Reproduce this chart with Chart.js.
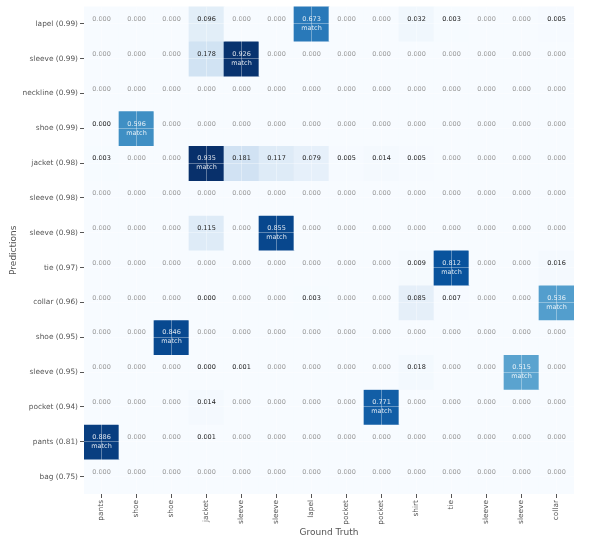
<!DOCTYPE html>
<html>
<head>
<meta charset="utf-8">
<script src="https://cdn.jsdelivr.net/npm/chart.js@4.4.1/dist/chart.umd.min.js"></script>
<style>
html,body{margin:0;padding:0;background:#fff}
#wrap{width:592px;height:548px}
</style>
</head>
<body>
<div id="wrap"><canvas id="cm"></canvas></div>
<script>
// ground truth columns (x) and predicted rows (y, top to bottom)
const truthLabels=["pants","shoe","shoe","jacket","sleeve","sleeve","lapel","pocket","pocket","shirt","tie","sleeve","sleeve","collar"]
const predLabels=["lapel (0.99)","sleeve (0.99)","neckline (0.99)","shoe (0.99)","jacket (0.98)","sleeve (0.98)","sleeve (0.98)","tie (0.97)","collar (0.96)","shoe (0.95)","sleeve (0.95)","pocket (0.94)","pants (0.81)","bag (0.75)"]

const rowLapel   =[0,0,0,0.096,0,0,0.673,0,0,0.032,0.003,0,0,0.005]
const rowSleeveA =[0,0,0,0.178,0.926,0,0,0,0,0,0,0,0,0]
const rowNeckline=[0,0,0,0,0,0,0,0,0,0,0,0,0,0]
const rowShoeA   =[0.0003,0.596,0,0,0,0,0,0,0,0,0,0,0,0]
const rowJacket  =[0.003,0,0,0.935,0.181,0.117,0.079,0.005,0.014,0.005,0,0,0,0]
const rowSleeveB =[0,0,0,0,0,0,0,0,0,0,0,0,0,0]
const rowSleeveC =[0,0,0,0.115,0,0.855,0,0,0,0,0,0,0,0]
const rowTie     =[0,0,0,0,0,0,0,0,0,0.009,0.812,0,0,0.016]
const rowCollar  =[0,0,0,0.0003,0,0,0.003,0,0,0.085,0.007,0,0,0.536]
const rowShoeB   =[0,0,0.846,0,0,0,0,0,0,0,0,0,0,0]
const rowSleeveD =[0,0,0,0.0004,0.001,0,0,0,0,0.018,0,0,0.515,0]
const rowPocket  =[0,0,0,0.014,0,0,0,0,0.771,0,0,0,0,0]
const rowPants   =[0.886,0,0,0.001,0,0,0,0,0,0,0,0,0,0]
const rowBag     =[0,0,0,0,0,0,0,0,0,0,0,0,0,0]
// column index of the matched ground truth for each row, -1 = none
const matchCol=[6,4,-1,1,3,-1,5,10,13,2,12,8,0,-1]

const matrix=[rowLapel,rowSleeveA,rowNeckline,rowShoeA,rowJacket,rowSleeveB,rowSleeveC,rowTie,rowCollar,rowShoeB,rowSleeveD,rowPocket,rowPants,rowBag]
const nRows=predLabels.length
const vmax=Math.max(...matrix.flat())

// matplotlib "Blues"
const blues=["#f7fbff","#deebf7","#c6dbef","#9ecae1","#6baed6","#4292c6","#2171b5","#08519c","#08306b"]
function hex(h){return [1,3,5].map(i=>parseInt(h.slice(i,i+2),16))}
function bluesAt(t){
t=Math.max(0,Math.min(1,t))*(blues.length-1)
const i=Math.min(Math.floor(t),blues.length-2)
const f=t-i
const a=hex(blues[i]),b=hex(blues[i+1])
const c=a.map((v,k)=>Math.round(v+(b[k]-v)*f))
return "rgb("+c.join(",")+")"
}

const FONT="'DejaVu Sans', sans-serif"

const datasets=matrix.map((row,i)=>({
label:predLabels[i],
data:row.map(()=>[nRows-1-i,nRows-i]),
backgroundColor:row.map(v=>bluesAt(v/vmax)),
borderWidth:0,
grouped:false,
barPercentage:1,
categoryPercentage:1
}))

const cellText={
id:"cellText",
afterDatasetsDraw(chart){
const {ctx,scales:{x,y}}=chart
ctx.save()
ctx.textAlign="center"
ctx.textBaseline="middle"
ctx.font="6.5px "+FONT
matrix.forEach((row,i)=>{
const cy=y.getPixelForValue(nRows-0.5-i)
row.forEach((v,j)=>{
const cx=x.getPixelForValue(j)
const isMatch=matchCol[i]===j
ctx.fillStyle=isMatch?"rgba(255,255,255,0.85)":(v>0?"#222":"#999")
ctx.fillText(v.toFixed(3),cx,cy-4.5)
if(isMatch) ctx.fillText("match",cx,cy+4.5)
})
})
ctx.restore()
}
}

new Chart(document.getElementById("cm"),{
type:"bar",
data:{labels:truthLabels,datasets:datasets},
options:{
responsive:true,
maintainAspectRatio:false,
animation:false,
layout:{padding:{top:4,right:18,left:0,bottom:0}},
plugins:{legend:{display:false},tooltip:{enabled:false}},
scales:{
x:{
type:"category",
offset:true,
afterFit(s){s.height=54},
grid:{offset:false,z:1,color:"rgba(255,255,255,0.35)",lineWidth:1,tickColor:"#555",tickLength:4},
border:{display:false},
ticks:{minRotation:90,maxRotation:90,autoSkip:false,padding:2,color:"#555",font:{family:FONT,size:7.4}},
title:{display:true,text:"Ground Truth",color:"#555",font:{family:FONT,size:9},padding:{top:0,bottom:9.6}}
},
y:{
type:"linear",
min:0,
max:nRows,
afterFit(s){s.width=84},
afterBuildTicks(s){s.ticks=predLabels.map((l,i)=>({value:nRows-0.5-i}))},
grid:{z:1,color:"rgba(255,255,255,0.35)",lineWidth:1,tickColor:"#555",tickLength:4},
border:{display:false},
ticks:{padding:2,color:"#555",font:{family:FONT,size:7.4},callback:(v)=>predLabels[Math.round(nRows-0.5-v)]},
title:{display:true,text:"Predictions",color:"#555",font:{family:FONT,size:9},padding:{top:8.6,bottom:0}}
}
}
},
plugins:[cellText]
})
</script>
</body>
</html>
